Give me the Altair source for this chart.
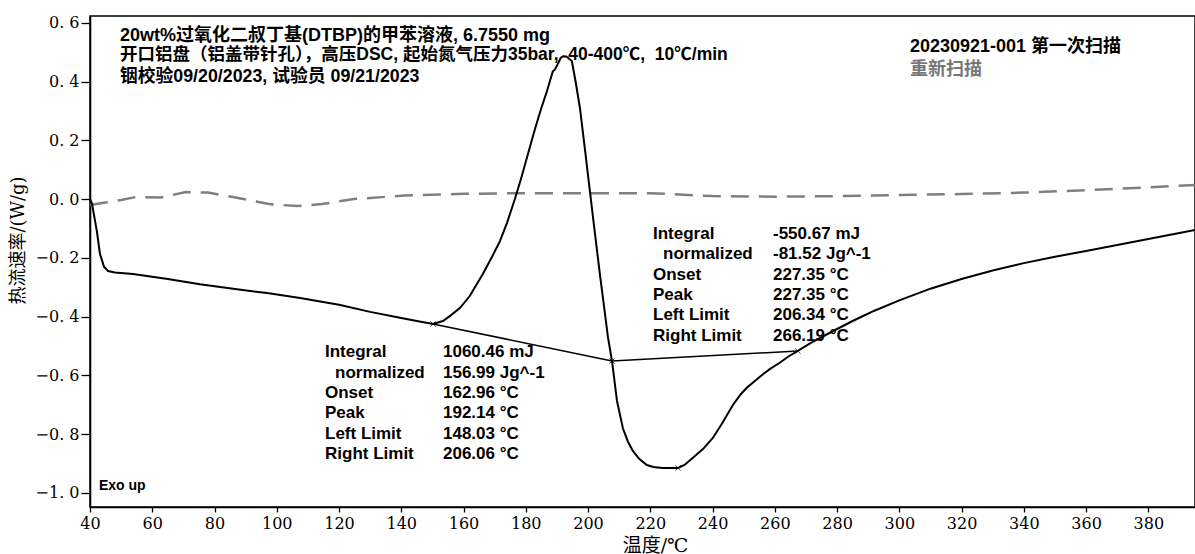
import altair as alt
import pandas as pd

# ---- data ----
temp_main = [40, 40.6, 42.2, 43.2, 44.5, 45.8, 48, 53.8, 65, 75.3, 86, 96.9, 107.5, 120, 130, 140, 145,
             150.2, 153.4, 156, 158.9, 162, 166.2, 169, 171.7, 174, 176.5, 178.5, 180.7, 183, 185, 186.8,
             188, 188.7, 189.3, 190.3, 191.2, 192, 193, 194.8, 196, 197.4, 199, 200.6, 202.2, 203.8, 205.2,
             206.4, 207.7, 209.3, 211.2, 212.8, 214.4, 216.5, 218.9, 221, 224, 227, 228.9, 231, 233.7, 237,
             240.1, 243, 246.6, 249, 251, 253.5, 256.2, 258.5, 261.6, 264.5, 267.4, 272, 277.7, 285, 292,
             300, 310, 320, 330, 340, 350, 360, 370, 380, 395]
heat_main = [0.0, -0.014, -0.109, -0.187, -0.23, -0.245, -0.25, -0.255, -0.272, -0.29, -0.305, -0.32, -0.337,
             -0.36, -0.384, -0.405, -0.415, -0.425, -0.415, -0.395, -0.37, -0.33, -0.255, -0.2, -0.143, -0.08,
             0.0, 0.07, 0.153, 0.24, 0.31, 0.367, 0.41, 0.435, 0.44, 0.46, 0.48, 0.486, 0.485, 0.47, 0.40, 0.31,
             0.17, 0.027, -0.115, -0.255, -0.37, -0.47, -0.551, -0.687, -0.78, -0.825, -0.857, -0.885, -0.905,
             -0.912, -0.915, -0.915, -0.915, -0.905, -0.88, -0.85, -0.813, -0.765, -0.70, -0.665, -0.642, -0.62,
             -0.596, -0.578, -0.557, -0.535, -0.517, -0.487, -0.455, -0.415, -0.38, -0.345, -0.305, -0.272,
             -0.243, -0.218, -0.196, -0.177, -0.156, -0.136, -0.105]

temp_rescan = [40, 45, 50, 54.8, 62.8, 70.8, 77.9, 85.9, 97.5, 106.5, 114.5, 124.8, 140.9, 160, 180, 200,
               220, 240, 260, 280, 300, 320, 340, 360, 380, 395]
heat_rescan = [-0.02, -0.012, -0.003, 0.007, 0.005, 0.024, 0.022, 0.007, -0.017, -0.024, -0.017, 0.0, 0.012,
               0.018, 0.02, 0.02, 0.02, 0.01, 0.008, 0.01, 0.014, 0.017, 0.022, 0.03, 0.04, 0.048]

base_seg = ["peak1", "peak1", "peak2", "peak2"]
base_temp = [150.2, 207.7, 207.7, 267.4]
base_heat = [-0.425, -0.551, -0.551, -0.517]

marker_temp = [150.2, 207.7, 228.9, 267.4]
marker_heat = [-0.425, -0.551, -0.915, -0.517]

NB = "\u00a0"
header_lines = ["20wt%过氧化二叔丁基(DTBP)的甲苯溶液, 6.7550 mg",
                "开口铝盘（铝盖带针孔），高压DSC, 起始氮气压力35bar," + NB + NB + "40-400℃," + NB + NB + "10℃/min",
                "铟校验09/20/2023, 试验员 09/21/2023"]
legend_lines = ["20230921-001 第一次扫描", "重新扫描"]

stat_names = ["Integral", "normalized", "Onset", "Peak", "Left Limit", "Right Limit"]
stats1 = ["1060.46 mJ", "156.99 Jg^-1", "162.96 °C", "192.14 °C", "148.03 °C", "206.06 °C"]
stats2 = ["-550.67 mJ", "-81.52 Jg^-1", "227.35 °C", "227.35 °C", "206.34 °C", "266.19 °C"]

x_ticks = list(range(40, 400, 10))
y_ticks = [round(-1.0 + 0.1 * i, 1) for i in range(17)]

# ---- chart ----
SANS = "Liberation Sans, Arial, Noto Sans CJK SC, sans-serif"
SERIF = "DejaVu Serif"
CJK_SERIF = "DejaVu Serif, Noto Sans CJK SC"

xs = alt.Scale(domain=[40, 395], nice=False, zero=False)
ys = alt.Scale(domain=[-1.048, 0.623], nice=False, zero=False)

df_main = pd.DataFrame({"T": temp_main, "H": heat_main})
df_res = pd.DataFrame({"T": temp_rescan, "H": heat_rescan})
df_base = pd.DataFrame({"seg": base_seg, "T": base_temp, "H": base_heat})
df_mk = pd.DataFrame({"T": marker_temp, "H": marker_heat})

x_enc = alt.X("T:Q", scale=xs, title="温度/℃",
              axis=alt.Axis(values=x_ticks,
                            labelExpr="datum.value % 20 == 0 ? datum.value : ''",
                            labelFont=SERIF, labelFontSize=16, labelColor="black",
                            labelFlush=False, labelOverlap=False, labelPadding=3,
                            tickSize=5, tickColor="black", tickWidth=1.3,
                            domainColor="black", domainWidth=1.6, grid=False,
                            titleFont=CJK_SERIF, titleFontSize=19, titleFontWeight="normal",
                            titleColor="black", titleX=565, titleY=38,
                            titleAlign="center", titleBaseline="middle"))
y_enc = alt.Y("H:Q", scale=ys, title="热流速率/(W/g)",
              axis=alt.Axis(values=y_ticks,
                            labelExpr="round(datum.value*10) % 2 == 0 ? replace(format(datum.value, '.1f'), '.', '. ') : ''",
                            labelFont=SERIF, labelFontSize=16, labelColor="black",
                            labelFlush=False, labelOverlap=False, labelPadding=2,
                            tickSize=9, tickColor="black", tickWidth=1.3,
                            domainColor="black", domainWidth=1.6, grid=False,
                            titleFont=CJK_SERIF, titleFontSize=18, titleFontWeight="normal",
                            titleColor="black", titleAngle=270, titleX=-72, titleY=224,
                            titleAlign="center", titleBaseline="middle"))

rescan = alt.Chart(df_res).mark_line(color="#7f7f7f", strokeWidth=2.5, strokeDash=[18, 10]).encode(
    x=x_enc, y=y_enc)
main = alt.Chart(df_main).mark_line(color="black", strokeWidth=2).encode(
    x=alt.X("T:Q", scale=xs), y=alt.Y("H:Q", scale=ys))
base = alt.Chart(df_base).mark_line(color="black", strokeWidth=1.5).encode(
    x=alt.X("T:Q", scale=xs), y=alt.Y("H:Q", scale=ys), detail="seg:N")
marks = alt.Chart(df_mk).mark_point(shape="M-1,-1L1,1M1,-1L-1,1", size=30, filled=False,
                                    color="black", strokeWidth=1).encode(
    x=alt.X("T:Q", scale=xs), y=alt.Y("H:Q", scale=ys))


def txt(s, x, y, size=17, color="black", weight="bold", font=SANS):
    return alt.Chart(pd.DataFrame({"t": [s]})).mark_text(
        align="left", baseline="middle", fontSize=size, fontWeight=weight, font=font, color=color
    ).encode(text="t:N", x=alt.value(x), y=alt.value(y))


texts = [
    txt(header_lines[0], 30, 20, size=18),
    txt(header_lines[1], 30, 39, size=17.5),
    txt(header_lines[2], 30, 61, size=17.8),
    txt(legend_lines[0], 820, 31, size=18),
    txt(legend_lines[1], 820, 54, size=18, color="#777777"),
]

rows1 = [336, 357, 377, 397, 418, 438]
rows2 = [218, 238, 259, 279, 299, 320]
for i, name in enumerate(stat_names):
    dx = 10 if name == "normalized" else 0
    texts.append(txt(name, 235 + dx, rows1[i], size=17))
    texts.append(txt(stats1[i], 353, rows1[i], size=17))
    texts.append(txt(name, 563 + dx, rows2[i], size=17))
    texts.append(txt(stats2[i], 683, rows2[i], size=17))
texts.append(txt("Exo up", 9, 470, size=14))

chart = alt.layer(rescan, base, main, marks, *texts).properties(
    width=1105, height=491,
    autosize=alt.AutoSizeParams(type="none"),
    padding={"left": 90, "top": 16, "right": 0, "bottom": 47},
    background="white",
).configure_view(stroke="black", strokeWidth=1.5)

chart.save("out.html", embed_options={"renderer": "svg", "actions": False})
